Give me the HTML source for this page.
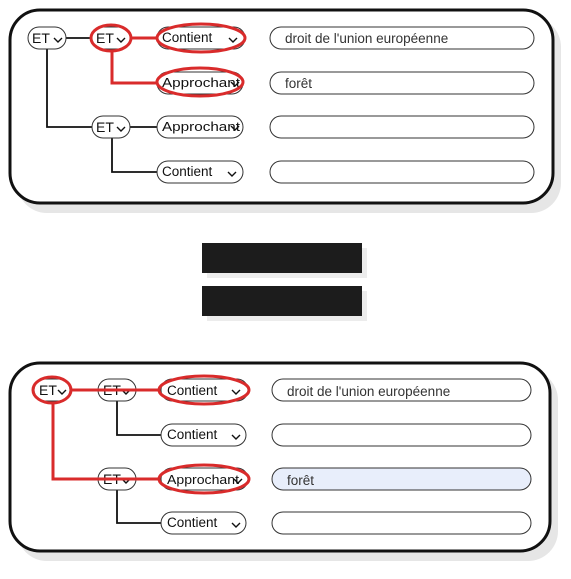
<!DOCTYPE html>
<html><head><meta charset="utf-8"><style>
body{margin:0;background:#fff;width:571px;height:574px;overflow:hidden}
text{font-family:"Liberation Sans",sans-serif;fill:#111}
</style></head><body>
<svg width="571" height="574" viewBox="0 0 571 574">
<defs>
<g id="chev"><path d="M-4,-2 L0,2 L4,-2" fill="none" stroke="#111" stroke-width="1.4"/></g>
</defs>
<g>
<rect x="17" y="17" width="544" height="196" rx="30" fill="#e6e6e6"/>
<rect x="10" y="10" width="543" height="193" rx="30" fill="#fff" stroke="#111" stroke-width="3"/>
<path d="M66,38 H91 M47,49 V127 H92 M130,127 H157 M112,138 V172 H157" fill="none" stroke="#111" stroke-width="1.8"/>
<path d="M131,38 H157 M112,49 V83 H157" fill="none" stroke="#d92b2b" stroke-width="3"/>
<g><rect x="28" y="27" width="38" height="22" rx="11" fill="#fff" stroke="#333"/><text x="32" y="43" font-size="14">ET</text><use href="#chev" x="58" y="40"/></g>
<g><rect x="91" y="27" width="40" height="22" rx="11" fill="#fff" stroke="#333"/><text x="96" y="43" font-size="14">ET</text><use href="#chev" x="121" y="40"/></g>
<g><rect x="157" y="27" width="88" height="22" rx="11" fill="#fff" stroke="#333"/><text x="162" y="42" font-size="13.5">Contient</text><use href="#chev" x="233" y="40"/></g>
<g><rect x="157" y="72" width="86" height="22" rx="11" fill="#fff" stroke="#333"/><text x="162" y="87" font-size="13" textLength="78" lengthAdjust="spacingAndGlyphs">Approchant</text><use href="#chev" x="235" y="84"/></g>
<g><rect x="92" y="116" width="38" height="22" rx="11" fill="#fff" stroke="#333"/><text x="96" y="132" font-size="14">ET</text><use href="#chev" x="121" y="129"/></g>
<g><rect x="157" y="116" width="86" height="22" rx="11" fill="#fff" stroke="#333"/><text x="162" y="131" font-size="13" textLength="78" lengthAdjust="spacingAndGlyphs">Approchant</text><use href="#chev" x="235" y="128"/></g>
<g><rect x="157" y="161" width="86" height="22" rx="11" fill="#fff" stroke="#333"/><text x="162" y="176" font-size="13.5">Contient</text><use href="#chev" x="232" y="174"/></g>
<g><rect x="270" y="27" width="264" height="22" rx="11" fill="#fff" stroke="#333"/><text x="285" y="43" font-size="13.5" style="fill:#333">droit de l'union européenne</text></g>
<g><rect x="270" y="72" width="264" height="22" rx="11" fill="#fff" stroke="#333"/><text x="285" y="88" font-size="13.5" style="fill:#333">forêt</text></g>
<rect x="270" y="116" width="264" height="22" rx="11" fill="#fff" stroke="#333"/>
<rect x="270" y="161" width="264" height="22" rx="11" fill="#fff" stroke="#333"/>
<ellipse cx="111" cy="38" rx="20" ry="13" fill="none" stroke="#d92b2b" stroke-width="3"/>
<ellipse cx="201" cy="38" rx="44" ry="14" fill="none" stroke="#d92b2b" stroke-width="3"/>
<ellipse cx="200" cy="82" rx="43" ry="14" fill="none" stroke="#d92b2b" stroke-width="3"/>
</g>
<g>
<rect x="207" y="248" width="160" height="30" fill="#ececec"/>
<rect x="202" y="243" width="160" height="30" fill="#1c1c1c"/>
<rect x="207" y="291" width="160" height="30" fill="#ececec"/>
<rect x="202" y="286" width="160" height="30" fill="#1c1c1c"/>
</g>
<g>
<rect x="17" y="370" width="541" height="191" rx="30" fill="#e6e6e6"/>
<rect x="10" y="363" width="540" height="188" rx="30" fill="#fff" stroke="#111" stroke-width="3"/>
<path d="M117,401 V435 H161 M117,490 V523 H161" fill="none" stroke="#111" stroke-width="1.8"/>
<g><rect x="34" y="379" width="36" height="22" rx="11" fill="#fff" stroke="#333"/><text x="39" y="395" font-size="14">ET</text><use href="#chev" x="62" y="392"/></g>
<g><rect x="98" y="379" width="38" height="22" rx="11" fill="#fff" stroke="#333"/><text x="103" y="395" font-size="14">ET</text><use href="#chev" x="126" y="392"/></g>
<g><rect x="98" y="468" width="38" height="22" rx="11" fill="#fff" stroke="#333"/><text x="103" y="484" font-size="14">ET</text><use href="#chev" x="126" y="481"/></g>
<path d="M70,390 H161 M53,402 V479 H161" fill="none" stroke="#d92b2b" stroke-width="3"/>
<g><rect x="161" y="379" width="87" height="22" rx="11" fill="#fff" stroke="#333"/><text x="167" y="395" font-size="13.5">Contient</text><use href="#chev" x="236" y="392"/></g>
<g><rect x="161" y="424" width="85" height="22" rx="11" fill="#fff" stroke="#333"/><text x="167" y="439" font-size="13.5">Contient</text><use href="#chev" x="236" y="437"/></g>
<g><rect x="161" y="468" width="87" height="22" rx="11" fill="#fff" stroke="#333"/><text x="167" y="484" font-size="13" textLength="72" lengthAdjust="spacingAndGlyphs">Approchant</text><use href="#chev" x="238" y="481"/></g>
<g><rect x="161" y="512" width="85" height="22" rx="11" fill="#fff" stroke="#333"/><text x="167" y="527" font-size="13.5">Contient</text><use href="#chev" x="236" y="525"/></g>
<g><rect x="272" y="379" width="259" height="22" rx="11" fill="#fff" stroke="#333"/><text x="287" y="396" font-size="13.5" style="fill:#333">droit de l'union européenne</text></g>
<rect x="272" y="424" width="259" height="22" rx="11" fill="#fff" stroke="#333"/>
<g><rect x="272" y="468" width="259" height="22" rx="11" fill="#e8eefb" stroke="#333"/><text x="287" y="485" font-size="13.5" style="fill:#333">forêt</text></g>
<rect x="272" y="512" width="259" height="22" rx="11" fill="#fff" stroke="#333"/>
<ellipse cx="52" cy="390" rx="19" ry="13" fill="none" stroke="#d92b2b" stroke-width="3"/>
<ellipse cx="204" cy="390" rx="45" ry="14" fill="none" stroke="#d92b2b" stroke-width="3"/>
<ellipse cx="204" cy="479" rx="45" ry="14" fill="none" stroke="#d92b2b" stroke-width="3"/>
</g>
</svg>
</body></html>
